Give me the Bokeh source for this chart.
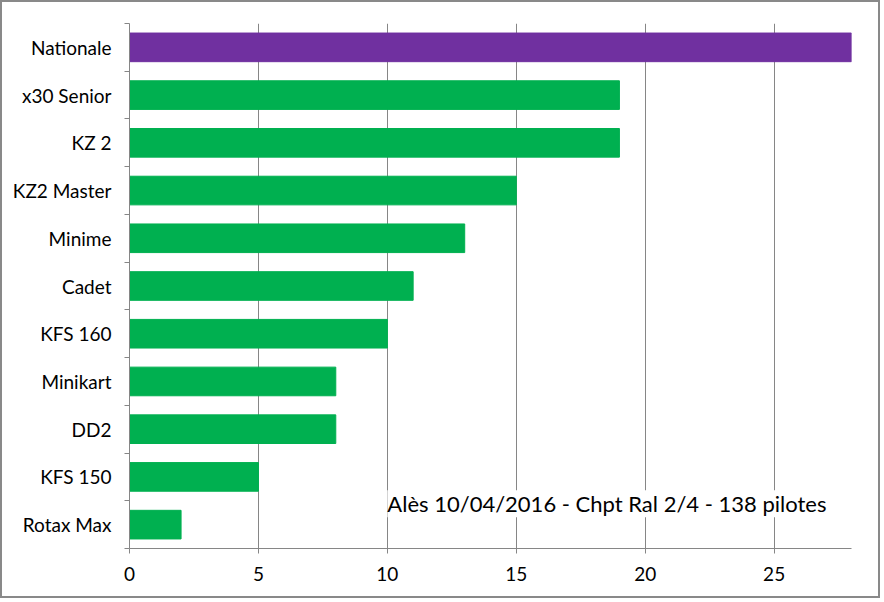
from bokeh.plotting import figure
from bokeh.models import ColumnDataSource, FixedTicker, Range1d, Label
from bokeh.embed import file_html
from bokeh.resources import INLINE

categories = ["Nationale", "x30 Senior", "KZ 2", "KZ2 Master", "Minime", "Cadet",
              "KFS 160", "Minikart", "DD2", "KFS 150", "Rotax Max"]
pilots = [28, 19, 19, 15, 13, 11, 10, 8, 8, 5, 2]
x_ticks = [0, 5, 10, 15, 20, 25]
note = "Alès 10/04/2016 - Chpt Ral 2/4 - 138 pilotes"

n = len(categories)
ypos = [n - i - 0.5 for i in range(n)]
colors = ["#7030A0" if c == "Nationale" else "#00B050" for c in categories]

src = ColumnDataSource(dict(cat=categories, val=pilots, y=ypos, color=colors))

FONT = "Lato"
GRAY = "#868686"

p = figure(width=880, height=598, output_backend="svg", toolbar_location=None,
           x_range=Range1d(0, 28), y_range=Range1d(0, n),
           min_border_left=127, min_border_right=31, min_border_top=21, min_border_bottom=52)
p.styles = {"border": "2px solid #898989"}
p.outline_line_color = None

p.hbar(y="y", right="val", left=0, height=0.6, color="color", source=src)

p.xaxis.ticker = FixedTicker(ticks=x_ticks, minor_ticks=[])
p.xaxis.axis_line_color = GRAY
p.xaxis.major_tick_line_color = GRAY
p.xaxis.major_tick_out = 5
p.xaxis.major_tick_in = 0
p.xaxis.minor_tick_line_color = None
p.xaxis.major_label_text_font = FONT
p.xaxis.major_label_text_font_size = "19px"
p.xaxis.major_label_text_color = "#000000"
p.xaxis.major_label_standoff = 13

p.yaxis.ticker = FixedTicker(ticks=ypos, minor_ticks=list(range(n + 1)))
p.yaxis.major_label_overrides = {y: c for y, c in zip(ypos, categories)}
p.yaxis.axis_line_color = GRAY
p.yaxis.major_tick_line_color = None
p.yaxis.major_tick_out = 0
p.yaxis.major_tick_in = 0
p.yaxis.minor_tick_line_color = GRAY
p.yaxis.minor_tick_out = 5
p.yaxis.minor_tick_in = 0
p.yaxis.major_label_text_font = FONT
p.yaxis.major_label_text_font_size = "19px"
p.yaxis.major_label_text_color = "#000000"
p.yaxis.major_label_standoff = 13

p.xgrid.ticker = FixedTicker(ticks=x_ticks[1:])
p.xgrid.grid_line_color = GRAY
p.ygrid.grid_line_color = None

lab = Label(x=10, y=0.94, text=note, text_font=FONT, text_font_size="22px",
            text_baseline="middle", text_color="#000000",
            background_fill_color="white", background_fill_alpha=1.0)
p.add_layout(lab)

open("out.html", "w").write(file_html(p, INLINE))
